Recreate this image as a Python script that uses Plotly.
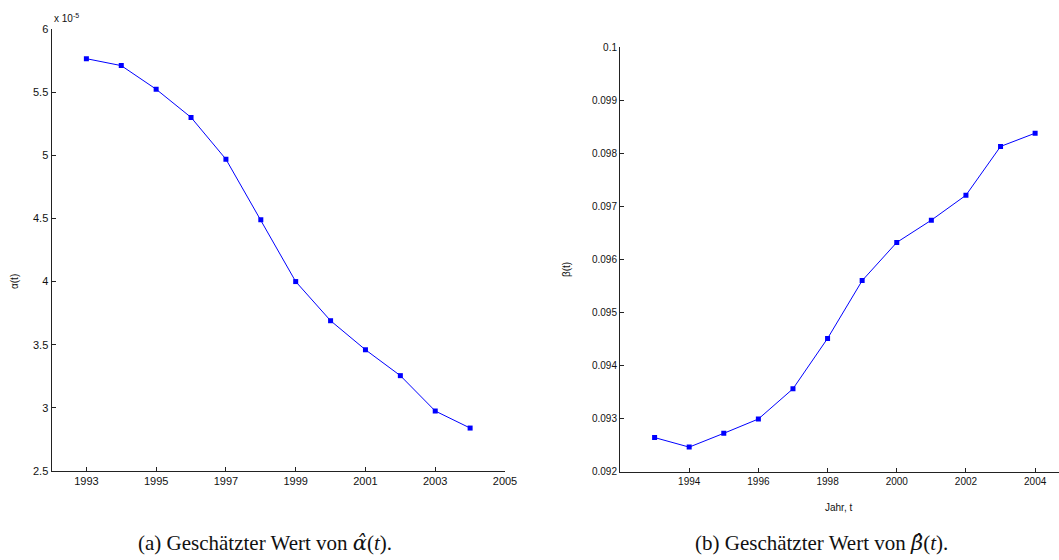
import plotly.graph_objects as go

years = [1993, 1994, 1995, 1996, 1997, 1998, 1999, 2000, 2001, 2002, 2003, 2004]
alpha_e5 = [5.765, 5.71, 5.523, 5.30, 4.969, 4.489, 4.00, 3.69, 3.46, 3.255, 2.975, 2.84]
beta = [0.09264, 0.09246, 0.09272, 0.09299, 0.09356, 0.09451, 0.09560, 0.09632,
        0.09674, 0.09721, 0.09813, 0.09838]

left_yticks = [2.5, 3, 3.5, 4, 4.5, 5, 5.5, 6]
left_ylabels = ["2.5", "3", "3.5", "4", "4.5", "5", "5.5", "6"]
left_xticks = [1993, 1995, 1997, 1999, 2001, 2003, 2005]
right_yticks = [0.092, 0.093, 0.094, 0.095, 0.096, 0.097, 0.098, 0.099, 0.1]
right_ylabels = ["0.092", "0.093", "0.094", "0.095", "0.096", "0.097", "0.098", "0.099", "0.1"]
right_xticks = [1994, 1996, 1998, 2000, 2002, 2004]

W, H = 1059, 560
BLUE = "#0000ff"
SANS = "Liberation Sans, Arial, sans-serif"
SERIF = "Liberation Serif, Times New Roman, serif"

fig = go.Figure()
fig.add_trace(go.Scatter(x=years, y=alpha_e5, mode="lines+markers",
                         line=dict(color=BLUE, width=1),
                         marker=dict(symbol="square", size=5, color=BLUE),
                         xaxis="x", yaxis="y", showlegend=False))
fig.add_trace(go.Scatter(x=years, y=beta, mode="lines+markers",
                         line=dict(color=BLUE, width=1),
                         marker=dict(symbol="square", size=5, color=BLUE),
                         xaxis="x2", yaxis="y2", showlegend=False))

axis_common = dict(showgrid=False, zeroline=False, showline=True, linecolor="#222",
                   linewidth=1, ticks="inside", ticklen=4, tickcolor="#222",
                   mirror=False, automargin=False)

fig.update_layout(
    template="none",
    width=W, height=H,
    margin=dict(l=0, r=0, t=0, b=0),
    paper_bgcolor="white", plot_bgcolor="white",
    xaxis=dict(domain=[51.5 / W, 505 / W], range=[1992, 2005], tickvals=left_xticks,
               tickfont=dict(family=SANS, size=11, color="#111"), anchor="y", **axis_common),
    yaxis=dict(domain=[(H - 471) / H, (H - 29) / H], range=[2.5, 6], tickvals=left_yticks,
               ticktext=left_ylabels, tickfont=dict(family=SANS, size=11, color="#111"),
               anchor="x", **axis_common),
    xaxis2=dict(domain=[620 / W, 1.0], range=[1992, 2004.69], tickvals=right_xticks,
                tickfont=dict(family=SANS, size=10, color="#111"), anchor="y2", **axis_common),
    yaxis2=dict(domain=[(H - 471.5) / H, (H - 47.3) / H], range=[0.092, 0.1],
                tickvals=right_yticks, ticktext=right_ylabels,
                tickfont=dict(family=SANS, size=10, color="#111"), anchor="x2", **axis_common),
)

HATSPAN = "<span style='font-family:DejaVu Serif;font-style:italic'>{}</span>"
annotations = [
    dict(x=52 / W, y=(H - 18) / H, xref="paper", yref="paper", xanchor="left", yanchor="middle",
         text="x 10<sup>-5</sup>", showarrow=False, font=dict(family=SANS, size=10, color="#111")),
    dict(x=14 / W, y=(H - 282) / H, xref="paper", yref="paper", xanchor="center", yanchor="middle",
         text="α(t)", textangle=-90, showarrow=False, font=dict(family=SANS, size=10, color="#111")),
    dict(x=566 / W, y=(H - 270) / H, xref="paper", yref="paper", xanchor="center", yanchor="middle",
         text="β(t)", textangle=-90, showarrow=False, font=dict(family=SANS, size=10, color="#111")),
    dict(x=838 / W, y=(H - 507) / H, xref="paper", yref="paper", xanchor="center", yanchor="middle",
         text="Jahr, t", showarrow=False, font=dict(family=SANS, size=10, color="#111")),
    dict(x=265 / W, y=(H - 543) / H, xref="paper", yref="paper", xanchor="center", yanchor="middle",
         text="(a) Geschätzter Wert von " + HATSPAN.format("α\u0302") + "(<i>t</i>).",
         showarrow=False, font=dict(family=SERIF, size=21, color="#111")),
    dict(x=821 / W, y=(H - 543) / H, xref="paper", yref="paper", xanchor="center", yanchor="middle",
         text="(b) Geschätzter Wert von " + HATSPAN.format("β\u0302") + "(<i>t</i>).",
         showarrow=False, font=dict(family=SERIF, size=21, color="#111")),
]
fig.update_layout(annotations=annotations)

fig.write_html("out.html")
